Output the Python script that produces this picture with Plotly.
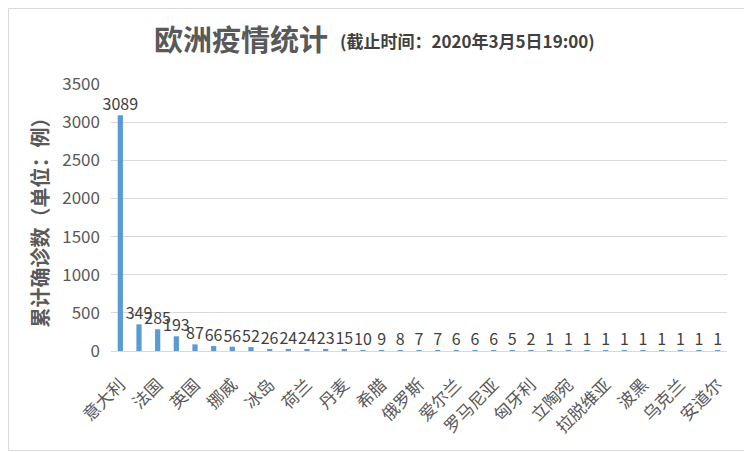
import plotly.graph_objects as go

categories = ["意大利", "德国", "法国", "西班牙", "英国", "瑞士", "挪威", "瑞典", "冰岛", "比利时",
              "荷兰", "奥地利", "丹麦", "圣马力诺", "希腊", "芬兰", "俄罗斯", "捷克", "爱尔兰", "葡萄牙",
              "罗马尼亚", "克罗地亚", "匈牙利", "白俄罗斯", "立陶宛", "爱沙尼亚", "拉脱维亚", "摩纳哥",
              "波黑", "卢森堡", "乌克兰", "北马其顿", "安道尔"]
values = [3089, 349, 285, 193, 87, 66, 56, 52, 26, 24,
          24, 23, 15, 10, 9, 8, 7, 7, 6, 6,
          6, 5, 2, 1, 1, 1, 1, 1,
          1, 1, 1, 1, 1]
shown_ticks = categories[::2]
y_ticks = [0, 500, 1000, 1500, 2000, 2500, 3000, 3500]

# page body has an 8px margin, so the figure is drawn from (8, 8)
OFF = 8
W, H = 752 - OFF, 452 - OFF
L, R, T, B = 111 - OFF, 25, 84 - OFF, 101
pw, ph = W - L - R, H - T - B

fig = go.Figure(go.Bar(
    x=categories, y=values,
    marker=dict(color="#5B9BD5", line=dict(width=0)),
    text=[str(v) for v in values], textposition="outside",
    textfont=dict(family="Noto Sans CJK SC", size=16, color="#404040"),
    cliponaxis=False,
))

fig.update_layout(
    width=W, height=H,
    margin=dict(l=L, r=R, t=T, b=B, autoexpand=False),
    paper_bgcolor="white", plot_bgcolor="white",
    bargap=0.72,
    showlegend=False,
    uniformtext=dict(minsize=16, mode="show"),
    font=dict(family="Noto Sans CJK SC", color="#595959"),
    xaxis=dict(
        type="category",
        tickmode="array", tickvals=shown_ticks, ticktext=shown_ticks,
        tickangle=-45,
        tickfont=dict(family="Noto Sans CJK SC", size=17, color="#595959"),
        ticklabelstandoff=16,
        showline=True, linecolor="#D9D9D9", linewidth=1,
        showgrid=False, ticks="",
    ),
    yaxis=dict(
        range=[0, 3500], tickvals=y_ticks,
        tickfont=dict(family="Noto Sans CJK SC", size=17, color="#595959"),
        ticklabelstandoff=10,
        showgrid=True, gridcolor="#D9D9D9", gridwidth=1,
        zeroline=False, showline=False, ticks="",
        title=dict(text="<b>累计确诊数（单位：例）</b>",
                   font=dict(family="Noto Sans CJK SC", size=20, color="#595959"),
                   standoff=8),
    ),
    annotations=[
        dict(xref="paper", yref="paper",
             x=(152 - OFF - L) / pw, y=1 + (T - (38 - OFF)) / ph,
             xanchor="left", yanchor="middle", showarrow=False,
             text="<b>欧洲疫情统计</b>",
             font=dict(family="Noto Sans CJK SC", size=29, color="#595959")),
        dict(xref="paper", yref="paper",
             x=(338 - OFF - L) / pw, y=1 + (T - (40 - OFF)) / ph,
             xanchor="left", yanchor="middle", showarrow=False,
             text="<b>(截止时间：2020年3月5日19:00)</b>",
             font=dict(family="Noto Sans CJK SC", size=17, color="#404040")),
    ],
    shapes=[
        dict(type="rect", xref="paper", yref="paper",
             x0=(0.5 - L) / pw, x1=(W - 1.5 - L) / pw,
             y0=-(B - 1.5) / ph, y1=1 + (T - 0.5) / ph,
             line=dict(color="#D9D9D9", width=1), layer="below"),
    ],
)

fig.write_html("out.html")
